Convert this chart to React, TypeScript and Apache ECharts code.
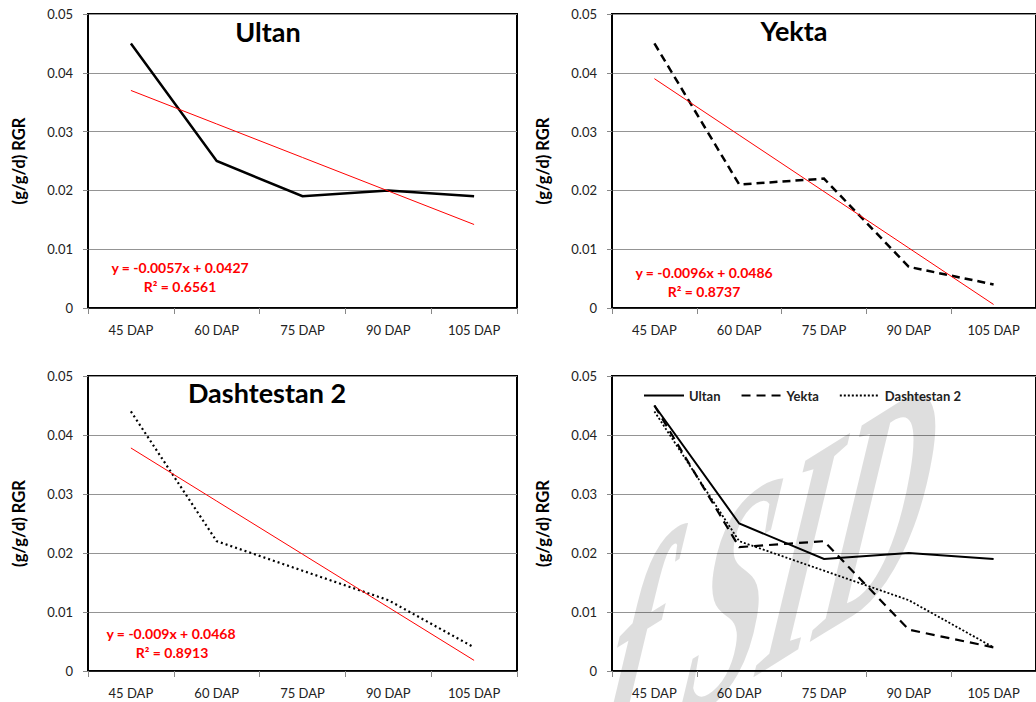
import React, { useEffect, useRef } from "react";
import * as echarts from "echarts";

const categories = ["45 DAP", "60 DAP", "75 DAP", "90 DAP", "105 DAP"];
const ultan = [0.045, 0.025, 0.019, 0.02, 0.019];
const yekta = [0.045, 0.021, 0.022, 0.007, 0.004];
const dashtestan = [0.044, 0.022, 0.017, 0.012, 0.004];
const ultanTrend = [0.037, 0.0313, 0.0256, 0.0199, 0.0142];
const yektaTrend = [0.039, 0.0294, 0.0198, 0.0102, 0.0006];
const dashtestanTrend = [0.0378, 0.0288, 0.0198, 0.0108, 0.0018];
const seriesNames = ["Ultan", "Yekta", "Dashtestan 2"];
const equations = ["y = -0.0057x + 0.0427", "y = -0.0096x + 0.0486", "y = -0.009x + 0.0468"];
const r2Labels = ["R\u00b2 = 0.6561", "R\u00b2 = 0.8737", "R\u00b2 = 0.8913"];
const yMin = 0;
const yMax = 0.05;
const yStep = 0.01;
const yAxisTitle = "(g/g/d) RGR";
const watermarkText = "f SID";

const FONT = "Lato, 'Open Sans', sans-serif";

// decompose a 2x2 linear map [[a,b],[c,d]] into rotation * scale * rotation (graphic has no skew)
function linearParts(a: number, b: number, c: number, d: number) {
  const E = (a + d) / 2, F = (a - d) / 2, G = (c + b) / 2, H = (c - b) / 2;
  const Q = Math.hypot(E, H), R = Math.hypot(F, G);
  const a1 = Math.atan2(G, F), a2 = Math.atan2(H, E);
  const theta = (a2 - a1) / 2, phi = (a2 + a1) / 2;
  return { outerRot: -phi, sx: Q + R, sy: Q - R, innerRot: -theta };
}

export default function App() {
  const ref = useRef<HTMLDivElement>(null);
  useEffect(() => {
    const chart = echarts.init(ref.current!, null, { renderer: "svg" });
    const grids = [
      { left: 88, top: 14, width: 429, height: 294 },
      { left: 612, top: 14, width: 429, height: 294 },
      { left: 88, top: 376, width: 429, height: 295 },
      { left: 612, top: 376, width: 429, height: 295 },
    ].map((g) => ({ ...g, show: true, borderColor: "#000", borderWidth: 2, backgroundColor: "transparent" }));

    const xAxis = grids.map((_, i) => ({
      type: "category",
      gridIndex: i,
      data: categories,
      boundaryGap: true,
      axisLine: { show: true, lineStyle: { color: "#000", width: 1.5 } },
      axisTick: { show: true, interval: 0, length: 6, lineStyle: { color: "#888" } },
      axisLabel: { interval: 0, margin: 15, color: "#222", fontSize: 13, fontFamily: FONT },
      splitLine: { show: false },
    }));
    const yAxis = grids.map((_, i) => ({
      type: "value",
      gridIndex: i,
      min: yMin,
      max: yMax,
      interval: yStep,
      axisLine: { show: true, lineStyle: { color: "#000", width: 1.5 } },
      axisTick: { show: true, length: 5, lineStyle: { color: "#888" } },
      axisLabel: {
        margin: 15,
        color: "#222",
        fontSize: 13,
        fontFamily: FONT,
        formatter: (v: number) => (v === 0 ? "0" : v.toFixed(2)),
      },
      splitLine: { show: true, lineStyle: { color: "#949494", width: 1 } },
      name: yAxisTitle,
      nameLocation: "middle",
      nameRotate: 90,
      nameGap: 61,
      nameTextStyle: { color: "#000", fontSize: 16.5, fontWeight: "bold", fontFamily: FONT },
    }));

    const line = (name: string, data: number[], idx: number, type: any, width: number, color = "#000", z = 3) => ({
      name,
      type: "line",
      data,
      xAxisIndex: idx,
      yAxisIndex: idx,
      symbol: "none",
      showSymbol: false,
      z,
      lineStyle: { color, width, type, cap: "butt", join: "miter" },
      itemStyle: { color },
    });

    const series = [
      line("Ultan-a", ultan, 0, "solid", 2.5),
      line("Ultan trend", ultanTrend, 0, "solid", 1, "#ff0000", 4),
      line("Yekta-a", yekta, 1, [8, 5], 2.5),
      line("Yekta trend", yektaTrend, 1, "solid", 1, "#ff0000", 4),
      line("Dashtestan-a", dashtestan, 2, [2, 3], 2.2),
      line("Dashtestan trend", dashtestanTrend, 2, "solid", 1, "#ff0000", 4),
      line(seriesNames[0], ultan, 3, "solid", 2),
      line(seriesNames[1], yekta, 3, [9, 6], 2.2),
      line(seriesNames[2], dashtestan, 3, [2, 2], 1.8),
    ];

    const titleText = (text: string, x: number, y: number) => ({
      type: "text",
      x,
      y,
      z: 10,
      style: {
        text,
        fill: "#000",
        fontSize: 27,
        fontWeight: "bold",
        fontFamily: FONT,
        textAlign: "center",
        textVerticalAlign: "middle",
        align: "center",
        verticalAlign: "middle",
      },
    });
    const redText = (text: string, x: number, y: number) => ({
      type: "text",
      x,
      y,
      z: 10,
      style: {
        text,
        fill: "#ff0000",
        fontSize: 14,
        fontWeight: "bold",
        fontFamily: FONT,
        textAlign: "center",
        textVerticalAlign: "middle",
        align: "center",
        verticalAlign: "middle",
      },
    });

    const sh = linearParts(0.8, -0.3, -0.5, 1.75);
    const watermark = {
      type: "group",
      x: 582,
      y: 830,
      rotation: sh.outerRot,
      scaleX: sh.sx,
      scaleY: sh.sy,
      silent: true,
      z: 100,
      children: [
        {
          type: "text",
          x: 0,
          y: 0,
          rotation: sh.innerRot,
          z: 100,
          silent: true,
          style: {
            text: watermarkText,
            fill: "rgba(0,0,0,0.13)",
            fontSize: 180,
            fontStyle: "italic",
            fontWeight: "bold",
            fontFamily: "'Liberation Serif', 'DejaVu Serif', serif",
            textAlign: "left",
            textVerticalAlign: "bottom",
            align: "left",
            verticalAlign: "bottom",
          },
        },
      ],
    };

    const option = {
      animation: false,
      backgroundColor: "#fff",
      grid: grids,
      xAxis,
      yAxis,
      series,
      legend: {
        data: seriesNames,
        left: 643,
        top: 389,
        padding: 0,
        itemWidth: 40,
        itemHeight: 12,
        itemGap: 20,
        itemStyle: { opacity: 0 },
        textStyle: { color: "#222", fontSize: 13, fontWeight: "bold", fontFamily: FONT },
      },
      graphic: [
        titleText("Ultan", 268, 31),
        titleText("Yekta", 794, 30),
        titleText("Dashtestan 2", 267, 392),
        redText(equations[0], 180, 267),
        redText(r2Labels[0], 180, 286),
        redText(equations[1], 704, 272),
        redText(r2Labels[1], 704, 291),
        redText(equations[2], 171, 633),
        redText(r2Labels[2], 172, 652),
        watermark,
      ],
    };
    chart.setOption(option as any);
    return () => chart.dispose();
  }, []);
  return (
    <div
      ref={ref}
      style={{ position: "absolute", left: 0, top: 0, width: 1036, height: 702, background: "#fff" }}
    />
  );
}
